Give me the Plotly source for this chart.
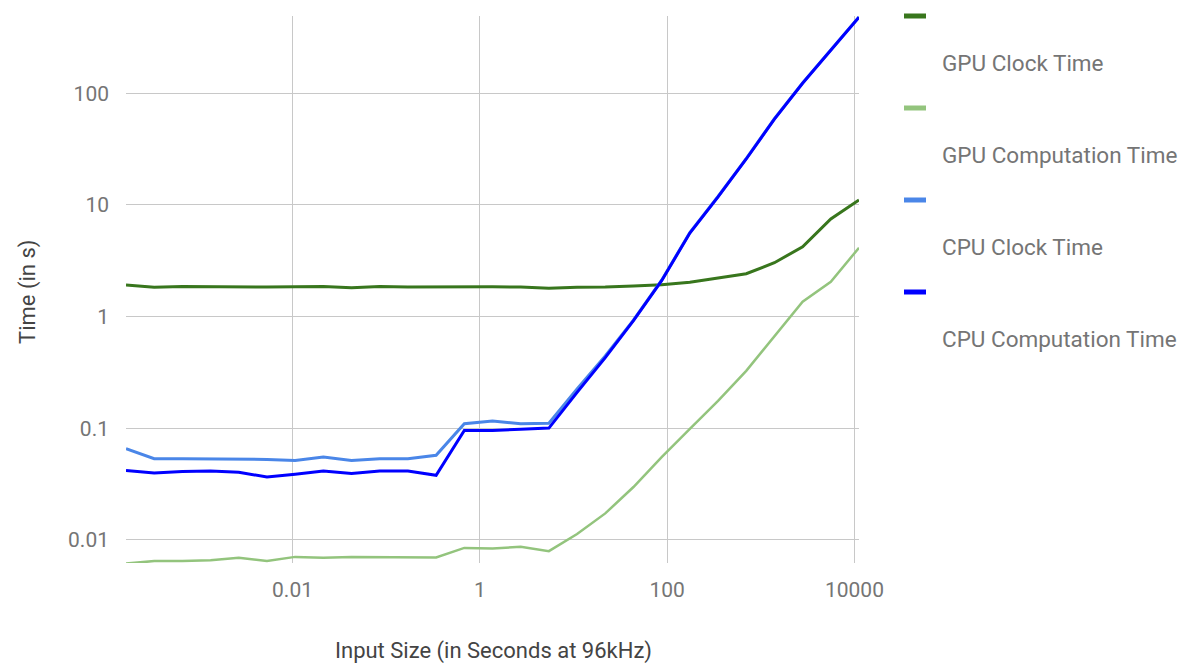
import math
import plotly.graph_objects as go

# Input sizes (samples); plotted as seconds of audio at 96 kHz
sample_counts = [16, 32, 64, 128, 256, 512, 1024, 2048, 4096, 8192, 16384,
                 32768, 65536, 131072, 262144, 524288, 1048576, 2097152,
                 4194304, 8388608, 16777216, 33554432, 67108864, 134217728,
                 268435456, 536870912, 1073741824]
sample_rate = 96000
input_seconds = [n / sample_rate for n in sample_counts]

gpu_clock = [1.92, 1.83, 1.86, 1.85, 1.84, 1.84, 1.85, 1.86, 1.81, 1.86, 1.84,
             1.85, 1.84, 1.85, 1.84, 1.80, 1.83, 1.84, 1.88, 1.93, 2.03, 2.21,
             2.42, 3.04, 4.22, 7.5, 11.1]
gpu_compute = [0.00615, 0.00647, 0.0065, 0.0066, 0.00692, 0.00647, 0.00706,
               0.00692, 0.00706, 0.00706, 0.00697, 0.00697, 0.0085, 0.0084,
               0.00868, 0.00794, 0.0113, 0.0173, 0.0298, 0.0553, 0.099, 0.176,
               0.327, 0.663, 1.36, 2.05, 4.14]
cpu_clock = [0.0657, 0.0535, 0.0535, 0.0535, 0.0527, 0.0527, 0.0516, 0.0553,
             0.0516, 0.0535, 0.0535, 0.0573, 0.110, 0.116, 0.110, 0.111, 0.225,
             0.445, 0.93, 2.12, 5.65, 11.9, 26.0, 59.2, 124, 244, 482]
cpu_compute = [0.042, 0.0398, 0.041, 0.0414, 0.0405, 0.0366, 0.0387, 0.0414,
               0.0393, 0.0414, 0.0414, 0.038, 0.0958, 0.0958, 0.098, 0.1005,
               0.21, 0.43, 0.92, 2.1, 5.6, 11.8, 25.8, 58.8, 123, 243, 480]

series_names = ["GPU Clock Time", "GPU Computation Time", "CPU Clock Time",
                "CPU Computation Time"]
series_values = [gpu_clock, gpu_compute, cpu_clock, cpu_compute]
series_colors = ["#38761d", "#93c47d", "#4a86e8", "#0000ff"]
series_widths = [3, 2.5, 3, 3]

x_tick_vals = [0.01, 1, 100, 10000]
x_tick_text = ["0.01", "1", "100", "10000"]
y_tick_vals = [0.01, 0.1, 1, 10, 100]
y_tick_text = ["0.01", "0.1", "1", "10", "100"]

W, H = 1188, 667
L, R, T, B = 126, 859, 16, 563  # plot area in pixels
FONT = "Roboto, Arial, sans-serif"
TICK_GRAY = "#757575"
TITLE_GRAY = "#444444"


def px_x(px):
    return (px - L) / (R - L)


def px_y(py):
    return (B - py) / (B - T)


fig = go.Figure()
for name, vals, color, width in zip(series_names, series_values,
                                    series_colors, series_widths):
    fig.add_trace(go.Scatter(x=input_seconds, y=vals, mode="lines", name=name,
                             line=dict(color=color, width=width),
                             showlegend=False))

fig.update_layout(
    width=W, height=H,
    margin=dict(l=L, r=W - R, t=T, b=H - B, pad=0),
    paper_bgcolor="white", plot_bgcolor="white",
    font=dict(family=FONT, size=21, color=TICK_GRAY),
    xaxis=dict(type="log",
               range=[math.log10(input_seconds[0]), math.log10(input_seconds[-1])],
               tickvals=x_tick_vals, ticktext=x_tick_text,
               showgrid=True, gridcolor="#c8c8c8", gridwidth=1.2,
               zeroline=False, showline=False, ticks="",
               ticklabelstandoff=12,
               tickfont=dict(family=FONT, size=21, color=TICK_GRAY)),
    yaxis=dict(type="log", range=[-2.206, 2.692],
               tickvals=y_tick_vals, ticktext=y_tick_text,
               showgrid=True, gridcolor="#c8c8c8", gridwidth=1.2,
               zeroline=False, showline=False, ticks="",
               ticklabelstandoff=16,
               tickfont=dict(family=FONT, size=21, color=TICK_GRAY)),
)

# Axis titles
fig.add_annotation(text="Input Size (in Seconds at 96kHz)", xref="paper",
                   yref="paper", x=px_x(493), y=px_y(651), showarrow=False,
                   xanchor="center", yanchor="middle",
                   font=dict(family=FONT, size=22, color=TITLE_GRAY))
fig.add_annotation(text="Time (in s)", xref="paper", yref="paper",
                   x=px_x(28), y=px_y(292), textangle=-90, showarrow=False,
                   xanchor="center", yanchor="middle",
                   font=dict(family=FONT, size=22, color=TITLE_GRAY))

# Legend: swatch on one row, label on the next
for i, (name, color) in enumerate(zip(series_names, series_colors)):
    sy = 16 + 92 * i
    fig.add_shape(type="rect", xref="paper", yref="paper",
                  x0=px_x(904), x1=px_x(926), y0=px_y(sy + 2.5),
                  y1=px_y(sy - 2.5), fillcolor=color, line=dict(width=0))
    fig.add_annotation(text=name, xref="paper", yref="paper",
                       x=px_x(940), y=px_y(sy + 47), showarrow=False,
                       xanchor="left", yanchor="middle",
                       font=dict(family=FONT, size=22.5, color=TICK_GRAY))

fig.write_html("out.html")
